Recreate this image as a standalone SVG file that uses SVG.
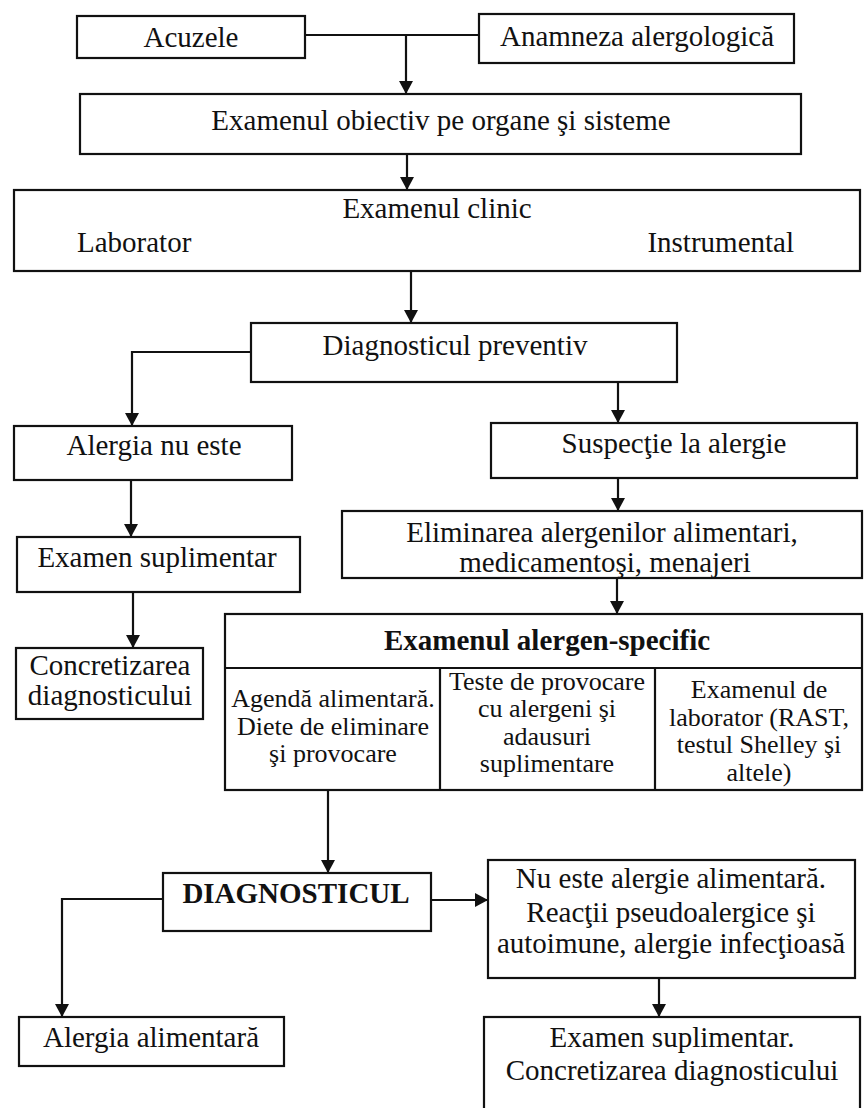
<svg xmlns="http://www.w3.org/2000/svg" width="865" height="1108" viewBox="0 0 865 1108">
  <defs>
    <marker id="arrow" markerUnits="userSpaceOnUse" markerWidth="14" markerHeight="14" refX="13" refY="7" orient="auto">
      <path d="M0,0 L13,7 L0,14 Z" fill="#111"/>
    </marker>
    <style>
      .box { fill: #fff; stroke: #111; stroke-width: 2.2; }
      .line { fill: none; stroke: #111; stroke-width: 2.2; }
      .arr { fill: none; stroke: #111; stroke-width: 2.2; marker-end: url(#arrow); }
      text { font-family: "Liberation Serif", "DejaVu Serif", serif; font-size: 29px; font-weight: normal; fill: #111; }
      .c { text-anchor: middle; }
      .b { font-weight: bold; }
      .t { font-size: 26px; }
    </style>
  </defs>
  <rect width="865" height="1108" fill="#fff"/>

  <!-- connectors -->
  <g id="connectors">
    <path class="line" d="M305,35 H479"/>
    <path class="arr" d="M406,35 V94"/>
    <path class="arr" d="M407,154 V190"/>
    <path class="arr" d="M411,271 V323"/>
    <path class="arr" d="M251,352 H132 V426"/>
    <path class="arr" d="M618,382 V423"/>
    <path class="arr" d="M131,480 V537"/>
    <path class="arr" d="M133,592 V648"/>
    <path class="arr" d="M618,478 V511"/>
    <path class="arr" d="M617,578 V614"/>
    <path class="arr" d="M328,790 V873"/>
    <path class="arr" d="M163,899 H62 V1017"/>
    <path class="arr" d="M431,900 H488"/>
    <path class="arr" d="M659,978 V1017"/>
  </g>

  <g id="acuzele">
    <rect class="box" x="77" y="16" width="228" height="42"/>
    <text class="c" x="191" y="47">Acuzele</text>
  </g>
  <g id="anamneza">
    <rect class="box" x="479" y="14" width="315" height="49"/>
    <text class="c" x="637" y="46">Anamneza alergologică</text>
  </g>
  <g id="examen-obiectiv">
    <rect class="box" x="80" y="94" width="721" height="60"/>
    <text class="c" x="441" y="130">Examenul obiectiv pe organe şi sisteme</text>
  </g>
  <g id="examen-clinic">
    <rect class="box" x="14" y="190" width="846" height="81"/>
    <text class="c" x="437" y="218">Examenul clinic</text>
    <text x="77" y="252">Laborator</text>
    <text x="794" y="252" text-anchor="end">Instrumental</text>
  </g>
  <g id="diagnostic-preventiv">
    <rect class="box" x="251" y="323" width="426" height="59"/>
    <text class="c" x="455" y="355">Diagnosticul preventiv</text>
  </g>
  <g id="alergia-nu-este">
    <rect class="box" x="14" y="426" width="278" height="54"/>
    <text class="c" x="154" y="455">Alergia nu este</text>
  </g>
  <g id="examen-suplimentar">
    <rect class="box" x="17" y="537" width="283" height="55"/>
    <text class="c" x="157" y="567">Examen suplimentar</text>
  </g>
  <g id="concretizarea">
    <rect class="box" x="16" y="648" width="187" height="71"/>
    <text class="c" x="110" y="675">Concretizarea</text>
    <text class="c" x="110" y="705">diagnosticului</text>
  </g>
  <g id="suspectie">
    <rect class="box" x="491" y="423" width="366" height="55"/>
    <text class="c" x="674" y="453">Suspecţie la alergie</text>
  </g>
  <g id="eliminarea">
    <rect class="box" x="342" y="511" width="520" height="67"/>
    <text class="c" x="602" y="542">Eliminarea alergenilor alimentari,</text>
    <text class="c" x="605" y="572">medicamentoşi, menajeri</text>
  </g>
  <g id="examen-alergen-specific">
    <rect class="box" x="225" y="614" width="637" height="176"/>
    <path class="line" d="M225,668 H862 M440,668 V790 M655,668 V790"/>
    <text class="c b" x="547" y="650">Examenul alergen-specific</text>
    <text class="c t" x="333" y="707">Agendă alimentară.</text>
    <text class="c t" x="333" y="735">Diete de eliminare</text>
    <text class="c t" x="333" y="762">şi provocare</text>
    <text class="c t" x="547" y="690">Teste de provocare</text>
    <text class="c t" x="547" y="717">cu alergeni şi</text>
    <text class="c t" x="547" y="745">adausuri</text>
    <text class="c t" x="547" y="772">suplimentare</text>
    <text class="c t" x="759" y="698">Examenul de</text>
    <text class="c t" x="759" y="726">laborator (RAST,</text>
    <text class="c t" x="759" y="753">testul Shelley şi</text>
    <text class="c t" x="759" y="781">altele)</text>
  </g>
  <g id="diagnosticul">
    <rect class="box" x="163" y="873" width="268" height="58"/>
    <text class="c b" x="296" y="903">DIAGNOSTICUL</text>
  </g>
  <g id="alergia-alimentara">
    <rect class="box" x="19" y="1017" width="265" height="49"/>
    <text class="c" x="151" y="1047">Alergia alimentară</text>
  </g>
  <g id="nu-este-alergie">
    <rect class="box" x="488" y="860" width="367" height="118"/>
    <text class="c" x="671" y="888">Nu este alergie alimentară.</text>
    <text class="c" x="671" y="922">Reacţii pseudoalergice şi</text>
    <text class="c" x="671" y="953">autoimune, alergie infecţioasă</text>
  </g>
  <g id="examen-suplimentar-2">
    <rect class="box" x="484" y="1017" width="376" height="110"/>
    <text class="c" x="672" y="1047">Examen suplimentar.</text>
    <text class="c" x="672" y="1080">Concretizarea diagnosticului</text>
  </g>
</svg>
